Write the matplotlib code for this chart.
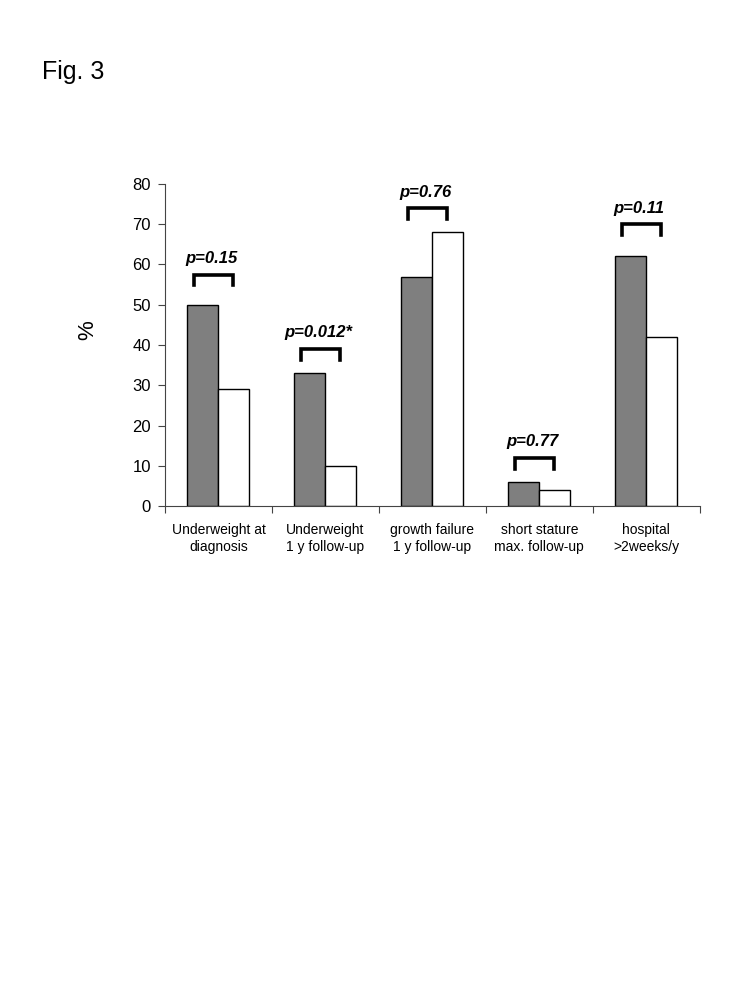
import numpy as np
import matplotlib.pyplot as plt

plt.rcParams['font.family'] = ['Liberation Sans', 'DejaVu Sans']

# Données
categories = ['Underweight at\ndiagnosis', 'Underweight\n1 y follow-up',
              'growth failure\n1 y follow-up', 'short stature\nmax. follow-up',
              'hospital\n>2weeks/y']
group_a = [50, 33, 57, 6, 62]
group_b = [29, 10, 68, 4, 42]
p_labels = ['p=0.15', 'p=0.012*', 'p=0.76', 'p=0.77', 'p=0.11']
bracket_y = [57.5, 39, 74, 12, 70]

x = np.arange(len(categories))
w = 0.29
axis_col = '#444444'

fig = plt.figure(figsize=(7.5, 10), dpi=100)
ax = fig.add_axes([0.22, 0.494, 0.713, 0.322])

ax.bar(x - w / 2, group_a, w, color='#7f7f7f', edgecolor='black', linewidth=1)
ax.bar(x + w / 2, group_b, w, color='white', edgecolor='black', linewidth=1)

# Crochets et p-valeurs
for i in range(len(x)):
    top = bracket_y[i]
    bx0, bx1 = x[i] - 0.23, x[i] + 0.14
    ax.plot([bx0, bx0, bx1, bx1], [top - 2.7, top, top, top - 2.7],
            color='black', lw=2.6, solid_joinstyle='miter', clip_on=False)
    ax.text((bx0 + bx1) / 2 - 0.02, top + 4, p_labels[i], ha='center', va='center',
            fontsize=12, fontweight='bold', fontstyle='italic')

# Axes
ax.set_xlim(-0.5, 4.5)
ax.set_ylim(0, 80)
ax.set_yticks(range(0, 81, 10))
ax.set_xticks(np.arange(-0.5, 4.6, 1))
ax.set_xticklabels([])
ax.set_xticks(x, minor=True)
ax.set_xticklabels(categories, minor=True, fontsize=10, linespacing=1.3)
ax.tick_params(axis='x', which='minor', length=0, pad=12)
ax.tick_params(axis='x', which='major', length=5, direction='out', color=axis_col)
ax.tick_params(axis='y', labelsize=12, length=5, pad=5, direction='out', color=axis_col)
ax.spines['top'].set_visible(False)
ax.spines['right'].set_visible(False)
ax.spines['left'].set_color(axis_col)
ax.spines['bottom'].set_color(axis_col)

fig.text(0.117, 0.67, '%', fontsize=16, rotation=90, ha='center', va='center')
fig.text(0.056, 0.928, 'Fig. 3', fontsize=18, va='center')

plt.savefig('out.png', dpi=100)
